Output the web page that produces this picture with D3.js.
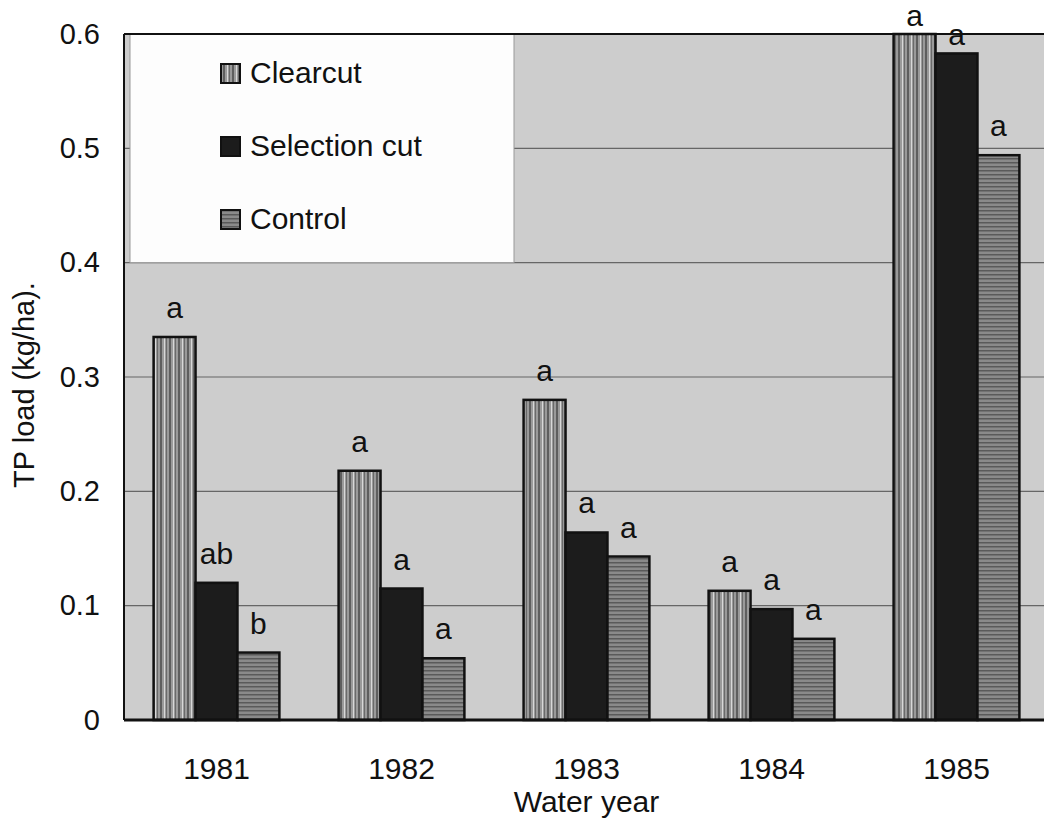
<!DOCTYPE html>
<html>
<head>
<meta charset="utf-8">
<script src="https://cdn.jsdelivr.net/npm/d3@7"></script>
<style>
  body { margin: 0; background: #fff; }
  text { font-family: "Liberation Sans", Arial, sans-serif; fill: #111; }
</style>
</head>
<body>
<div id="main"></div>
<script>
const ctx = { w: 1044, h: 820 };
const margin = { top: 34, right: -5, bottom: 100, left: 124 };

// data
const years = ['1981', '1982', '1983', '1984', '1985'];
const treatments = ['Clearcut', 'Selection cut', 'Control'];
const clearcut = [0.335, 0.218, 0.280, 0.113, 0.600];
const selectionCut = [0.120, 0.115, 0.164, 0.097, 0.583];
const control = [0.059, 0.054, 0.143, 0.071, 0.494];
const letters = [
    ['a', 'ab', 'b'],
    ['a', 'a', 'a'],
    ['a', 'a', 'a'],
    ['a', 'a', 'a'],
    ['a', 'a', 'a']
];
const yTicks = [0, 0.1, 0.2, 0.3, 0.4, 0.5, 0.6];
const series = [clearcut, selectionCut, control];
const fills = ['url(#vstripe)', '#1c1c1c', 'url(#hstripe)'];
const FONT = "Liberation Sans, Arial, sans-serif";

function createViz() {
    const svg = d3.select("#main").append("svg")
        .attr("width", ctx.w)
        .attr("height", ctx.h);

    // stripe patterns
    const defs = svg.append("defs");
    const vp = defs.append("pattern").attr("id", "vstripe")
        .attr("patternUnits", "userSpaceOnUse").attr("width", 9).attr("height", 9);
    vp.append("rect").attr("width", 9).attr("height", 9).attr("fill", "#9a9a9a");
    vp.append("rect").attr("x", 0).attr("width", 2).attr("height", 9).attr("fill", "#5e5e5e");
    vp.append("rect").attr("x", 4).attr("width", 1).attr("height", 9).attr("fill", "#d8d8d8");
    vp.append("rect").attr("x", 6).attr("width", 1).attr("height", 9).attr("fill", "#6a6a6a");
    const hp = defs.append("pattern").attr("id", "hstripe")
        .attr("patternUnits", "userSpaceOnUse").attr("width", 6).attr("height", 4);
    hp.append("rect").attr("width", 6).attr("height", 4).attr("fill", "#8a8a8a");
    hp.append("rect").attr("y", 0).attr("width", 6).attr("height", 1.5).attr("fill", "#5a5a5a");

    const iw = ctx.w - margin.left - margin.right;
    const ih = ctx.h - margin.top - margin.bottom;
    const g = svg.append("g").attr("transform", `translate(${margin.left},${margin.top})`);

    const x = d3.scaleBand().domain(years).range([0, iw]).paddingInner(0.32).paddingOuter(0.16);
    const xs = d3.scaleBand().domain(treatments).range([0, x.bandwidth()]);
    const y = d3.scaleLinear().domain([0, 0.6]).range([ih, 0]);

    // plot background
    g.append("rect").attr("width", iw).attr("height", ih).attr("fill", "#cdcdcd");

    // grid
    g.append("g").selectAll("line").data(yTicks.slice(1, -1)).join("line")
        .attr("x1", 0).attr("x2", iw)
        .attr("y1", d => y(d)).attr("y2", d => y(d))
        .attr("stroke", "#666").attr("stroke-width", 1.2);

    // legend box (white, sits over grid)
    const lg = g.append("g");
    lg.append("rect").attr("x", 6).attr("y", 0).attr("width", 384).attr("height", y(0.4))
        .attr("fill", "#fdfdfd").attr("stroke", "#999");
    treatments.forEach((t, i) => {
        const ly = 39 + i * 73;
        lg.append("rect").attr("x", 97).attr("y", ly - 9).attr("width", 19).attr("height", 19)
            .attr("fill", fills[i]).attr("stroke", "#111").attr("stroke-width", 2);
        lg.append("text").attr("x", 126).attr("y", ly + 10)
            .style("font-size", "30px").text(t);
    });

    // bars
    series.forEach((vals, si) => {
        g.append("g").selectAll("rect").data(vals).join("rect")
            .attr("x", (d, i) => x(years[i]) + xs(treatments[si]))
            .attr("y", d => y(d))
            .attr("width", xs.bandwidth())
            .attr("height", d => y(0) - y(d))
            .attr("fill", fills[si])
            .attr("stroke", "#111").attr("stroke-width", 2.5);
        // letters squeeze against the top edge for the tallest bars
        g.append("g").selectAll("text").data(vals).join("text")
            .attr("x", (d, i) => x(years[i]) + xs(treatments[si]) + xs.bandwidth() / 2)
            .attr("y", d => y(d) - (d > 0.55 ? 8 : 19))
            .attr("text-anchor", "middle")
            .style("font-size", "30px")
            .text((d, i) => letters[i][si]);
    });

    // frame
    g.append("line").attr("x1", 0).attr("x2", 0).attr("y1", 0).attr("y2", ih)
        .attr("stroke", "#111").attr("stroke-width", 2);
    g.append("line").attr("x1", 0).attr("x2", iw).attr("y1", 0).attr("y2", 0)
        .attr("stroke", "#111").attr("stroke-width", 2);
    g.append("line").attr("x1", 0).attr("x2", iw).attr("y1", ih).attr("y2", ih)
        .attr("stroke", "#111").attr("stroke-width", 3);

    // axes
    const ya = g.append("g")
        .call(d3.axisLeft(y).tickValues(yTicks).tickSize(0).tickPadding(24)
            .tickFormat(d => d === 0 ? "0" : d3.format(".1f")(d)));
    ya.select(".domain").remove();
    ya.selectAll("text").style("font-size", "29px").style("font-family", FONT);

    const xa = g.append("g").attr("transform", `translate(0,${ih})`)
        .call(d3.axisBottom(x).tickSize(0).tickPadding(38));
    xa.select(".domain").remove();
    xa.selectAll("text").style("font-size", "30px").style("font-family", FONT);

    // axis titles
    g.append("text")
        .attr("x", x("1983") + x.bandwidth() / 2)
        .attr("y", ih + 92)
        .attr("text-anchor", "middle")
        .style("font-size", "30px")
        .text("Water year");

    g.append("text")
        .attr("transform", `translate(${-90},${y(0.3) + 8}) rotate(-90)`)
        .attr("text-anchor", "middle")
        .style("font-size", "29px")
        .text("TP load (kg/ha).");
}

createViz();
</script>
</body>
</html>
